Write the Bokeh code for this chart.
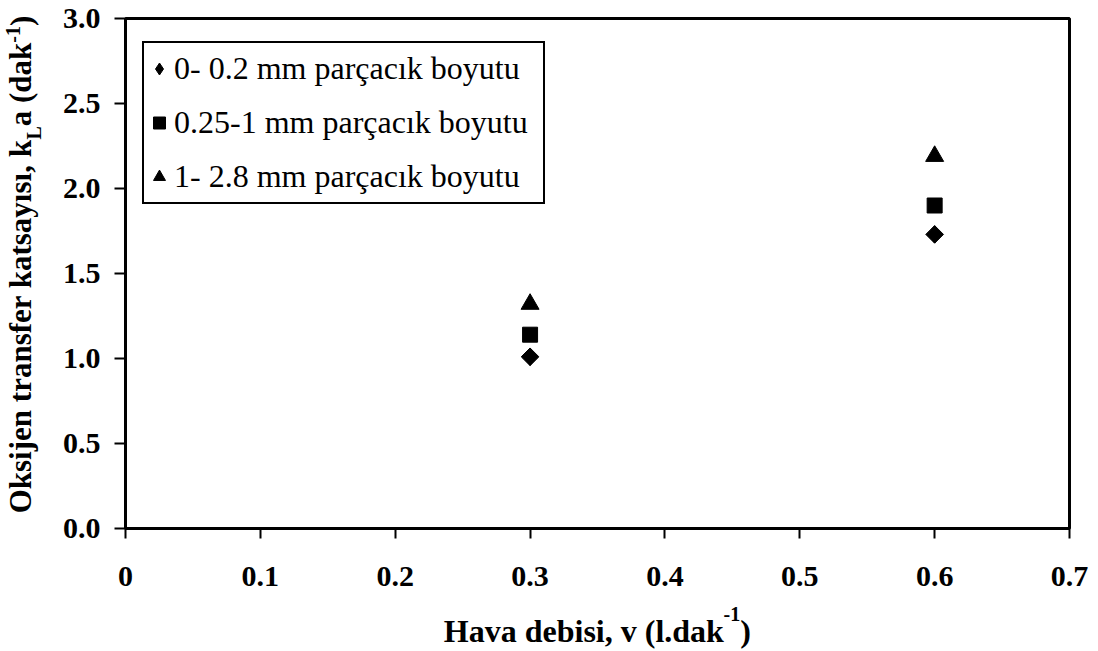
import math
from bokeh.plotting import figure
from bokeh.models import (Range1d, FixedTicker, PrintfTickFormatter, Legend, LegendItem,
                          LinearAxis)
from bokeh.embed import file_html
from bokeh.resources import INLINE

# ---------------- data ----------------
air_flow = [0.3, 0.6]                 # Hava debisi, v (l/dak)
kla_fine = [1.01, 1.73]               # 0- 0.2 mm
kla_medium = [1.14, 1.90]             # 0.25-1 mm
kla_coarse = [1.32, 2.19]             # 1- 2.8 mm
series_labels = ["0- 0.2 mm parçacık boyutu",
                 "0.25-1 mm parçacık boyutu",
                 "1- 2.8 mm parçacık boyutu"]
x_ticks = [0, 0.1, 0.2, 0.3, 0.4, 0.5, 0.6, 0.7]
y_ticks = [0, 0.5, 1.0, 1.5, 2.0, 2.5, 3.0]
x_title = ["Hava debisi, v (l.dak", "-1", ")"]
y_title = ["Oksijen transfer katsayısı, k", "L", "a (dak", "-1", ")"]

# ---------------- style ----------------
FONT = "Liberation Serif"
W, H = 1098, 651
ML, MR, MT, MB = 123, 29, 18, 123
X0, X1, Y0, Y1 = 0.0, 0.7, 0.0, 3.0

# Times bold advance widths (per 1000 em) for composing the titles
TB = {" ": 250, "(": 333, ")": 333, ",": 250, "-": 333, ".": 250, "1": 500,
      "H": 778, "L": 667, "O": 778, "a": 500, "b": 556, "d": 556, "e": 444,
      "f": 333, "i": 278, "j": 333, "k": 556, "l": 278, "n": 556, "r": 444,
      "s": 389, "t": 333, "v": 500, "y": 500, "ı": 278}


def tw(s, px):
    return sum(TB.get(c, 500) for c in s) * px / 1000.0


p = figure(width=W, height=H, output_backend="svg", toolbar_location=None, title=None,
           x_range=Range1d(X0, X1), y_range=Range1d(Y0, Y1),
           min_border_left=ML, min_border_right=MR, min_border_top=MT, min_border_bottom=MB)
p.xgrid.visible = False
p.ygrid.visible = False
p.outline_line_color = "black"
p.outline_line_width = 3
p.outline_line_alpha = 1.0
p.background_fill_color = "white"
p.border_fill_color = "white"

xa = p.xaxis[0]
ya = p.yaxis[0]
for ax in (xa, ya):
    ax.axis_line_color = "black"
    ax.axis_line_width = 3
    ax.major_tick_line_color = "black"
    ax.major_tick_line_width = 2
    ax.major_tick_in = 0
    ax.minor_tick_line_color = None
    ax.major_label_text_font = FONT
    ax.major_label_text_font_style = "bold"
    ax.major_label_text_font_size = "30px"
    ax.major_label_text_color = "black"

xa.ticker = FixedTicker(ticks=x_ticks)
ya.ticker = FixedTicker(ticks=y_ticks)
xa.formatter = PrintfTickFormatter(format="%.1f")
xa.major_label_overrides = {0: "0"}
ya.formatter = PrintfTickFormatter(format="%.1f")
xa.major_tick_out = 10
ya.major_tick_out = 11
xa.major_label_standoff = 28
ya.major_label_standoff = 14

# ---------------- markers ----------------
r_fine = p.scatter(air_flow, kla_fine, marker="square", angle=math.pi / 4, size=12.5,
                   fill_color="black", line_color="black")
r_fine_key = p.scatter(air_flow, kla_fine, marker="diamond", size=17,
                       fill_color="black", line_color="black")
r_med = p.scatter(air_flow, kla_medium, marker="square", size=15,
                  fill_color="black", line_color="black")
r_coarse = p.scatter(air_flow, kla_coarse, marker="triangle", size=18,
                     fill_color="black", line_color="black")

legend = Legend(
    items=[LegendItem(label=series_labels[0], renderers=[r_fine_key]),
           LegendItem(label=series_labels[1], renderers=[r_med]),
           LegendItem(label=series_labels[2], renderers=[r_coarse])],
    location=(17, 324), orientation="vertical",
    padding=0, spacing=3, margin=0,
    glyph_width=30, glyph_height=51, label_height=51, label_width=369, label_standoff=0,
    label_text_font=FONT, label_text_font_size="32px", label_text_color="black",
    border_line_color="black", border_line_width=2, border_line_alpha=1.0,
    background_fill_color="white", background_fill_alpha=1.0,
)
p.add_layout(legend, "center")

# ---------------- axis titles (with super/subscripts) as label-only axes ----------------
ppu_x = (W - ML - MR) / (X1 - X0)
ppu_y = (H - MT - MB) / (Y1 - Y0)


def text_axis(side, positions, texts, px, standoff, vertical=False):
    ax = LinearAxis(ticker=FixedTicker(ticks=positions, minor_ticks=[]),
                    major_label_overrides=dict(zip(positions, texts)))
    ax.axis_line_color = None
    ax.major_tick_line_color = None
    ax.minor_tick_line_color = None
    ax.major_tick_in = 0
    ax.major_tick_out = 0
    ax.minor_tick_in = 0
    ax.minor_tick_out = 0
    ax.major_label_standoff = standoff
    ax.major_label_text_font = FONT
    ax.major_label_text_font_style = "bold"
    ax.major_label_text_font_size = f"{px}px"
    ax.major_label_text_color = "black"
    if vertical:
        ax.major_label_orientation = "vertical"
    p.add_layout(ax, side)


def centres(parts, sizes, mid, ppu, shift=0.0):
    total = sum(tw(t, s) for t, s in zip(parts, sizes))
    pos = -total / 2 + shift
    out = []
    for t, s in zip(parts, sizes):
        w = tw(t, s)
        out.append(mid + (pos + w / 2) / ppu)
        pos += w
    return out


# x title
xs = [32, 20, 32]
xc = centres(x_title, xs, (X0 + X1) / 2, ppu_x)
text_axis("below", [xc[1]], [x_title[1]], 20, 18)                           # superscript
text_axis("below", [xc[0], xc[2]], [x_title[0], x_title[2]], 32, -11)       # main text

# y title (rotated)
ys = [31, 20, 31, 20, 31]
yc = centres(y_title, ys, (Y0 + Y1) / 2, ppu_y, shift=9)
text_axis("left", [yc[1]], [y_title[1]], 20, 14, vertical=True)             # subscript
text_axis("left", [yc[0], yc[2], yc[4]], [y_title[0], y_title[2], y_title[4]], 31, -18,
          vertical=True)                                                    # main text
text_axis("left", [yc[3]], [y_title[3]], 20, -20, vertical=True)            # superscript

open("out.html", "w").write(file_html(p, INLINE))
